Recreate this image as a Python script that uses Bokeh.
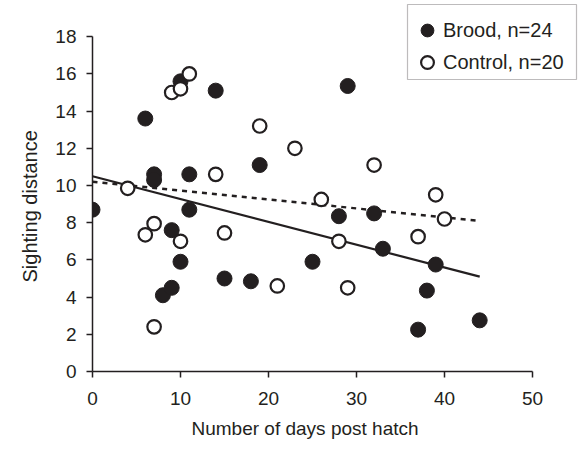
from bokeh.plotting import figure
from bokeh.models import Range1d, Legend, LegendItem, FixedTicker, BoxAnnotation, Title
from bokeh.embed import file_html
from bokeh.resources import INLINE

# Brood (filled circles)
brood_days = [0, 6, 7, 7, 8, 9, 9, 10, 10, 11, 11, 14, 15, 18, 19, 25, 28, 29, 32, 33, 37, 38, 39, 44]
brood_dist = [8.7, 13.6, 10.6, 10.3, 4.1, 7.6, 4.5, 15.6, 5.9, 10.6, 8.7, 15.1, 5.0, 4.85, 11.1, 5.9, 8.35, 15.35, 8.5, 6.6, 2.25, 4.35, 5.75, 2.75]

# Control (open circles)
control_days = [4, 6, 7, 7, 9, 10, 10, 11, 14, 15, 19, 21, 23, 26, 28, 29, 32, 37, 39, 40]
control_dist = [9.85, 7.35, 7.95, 2.4, 15.0, 15.2, 7.0, 16.0, 10.6, 7.45, 13.2, 4.6, 12.0, 9.25, 7.0, 4.5, 11.1, 7.25, 9.5, 8.2]

# Trend lines (end points)
trend_x = [0, 44]
brood_trend = [10.5, 5.1]
control_trend = [10.2, 8.1]

x_ticks = [0, 10, 20, 30, 40, 50]
y_ticks = [0, 2, 4, 6, 8, 10, 12, 14, 16, 18]

INK = "#231f20"
FONT = "Liberation Sans"

# frame extends past the axes so the legend (drawn inside it) is not clipped
PX_X = 8.8     # px per day
PX_Y = 18.6    # px per distance unit
FW, FH = 486, 371

p = figure(width=579, height=453, output_backend="svg", toolbar_location=None,
           x_range=Range1d(0, FW / PX_X), y_range=Range1d(0, FH / PX_Y),
           min_border_left=92, min_border_right=1, min_border_top=0, min_border_bottom=82)
p.frame_width = FW
p.frame_height = FH
p.outline_line_color = None
p.xgrid.visible = False
p.ygrid.visible = False

for ax in (p.xaxis[0], p.yaxis[0]):
    ax.axis_line_color = INK
    ax.axis_line_width = 1.5
    ax.major_tick_line_color = INK
    ax.major_tick_line_width = 1.5
    ax.major_tick_out = 6
    ax.major_tick_in = 0
    ax.minor_tick_line_color = None
    ax.major_label_text_font = FONT
    ax.major_label_text_font_size = "19px"
    ax.major_label_text_color = INK

p.xaxis.bounds = (x_ticks[0], x_ticks[-1])
p.yaxis.bounds = (y_ticks[0], y_ticks[-1])
p.xaxis.ticker = FixedTicker(ticks=x_ticks)
p.yaxis.ticker = FixedTicker(ticks=y_ticks)
p.xaxis.major_label_standoff = 14
p.yaxis.major_label_standoff = 10

# axis titles, placed along the drawn axes rather than the (wider) frame
xt = Title(text="Number of days post hatch", align="left", offset=99,
           text_font=FONT, text_font_size="19px", text_font_style="normal",
           text_color=INK, standoff=17)
yt = Title(text="Sighting distance", align="left", offset=89,
           text_font=FONT, text_font_size="20px", text_font_style="normal",
           text_color=INK, standoff=24)
p.add_layout(xt, "below")
p.add_layout(yt, "left")

p.line(trend_x, brood_trend, line_color=INK, line_width=2.2)
p.line(trend_x, control_trend, line_color=INK, line_width=2.5, line_dash="5 5")

r_b = p.scatter(brood_days, brood_dist, size=15, fill_color=INK, line_color=INK, line_width=1)
r_c = p.scatter(control_days, control_dist, size=13.5, fill_color="white", line_color=INK, line_width=2.2)

# legend frame box
p.add_layout(BoxAnnotation(left=407, right=576, top=4, bottom=79,
                           left_units="canvas", right_units="canvas",
                           top_units="canvas", bottom_units="canvas",
                           fill_alpha=0, line_color=INK, line_width=1.2))

legend = Legend(items=[LegendItem(label="Brood, n=24", renderers=[r_b]),
                       LegendItem(label="Control, n=20", renderers=[r_c])],
                location=(319, 293))
legend.label_text_font = FONT
legend.label_text_font_size = "20px"
legend.label_text_color = INK
legend.glyph_width = 32
legend.glyph_height = 32
legend.spacing = -4
legend.label_standoff = -4
legend.padding = 0
legend.margin = 0
legend.border_line_color = None
legend.background_fill_alpha = 0
p.add_layout(legend)

open("out.html", "w").write(file_html(p, INLINE))
